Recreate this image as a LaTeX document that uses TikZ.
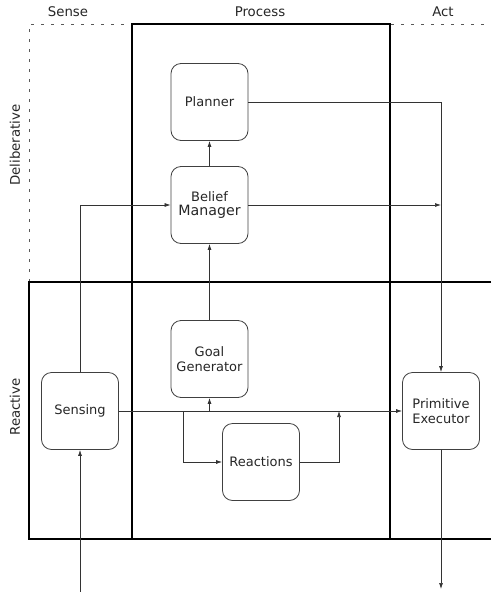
\documentclass[tikz,border=0pt]{standalone}
\usepackage{fontspec}
\setmainfont{DejaVu Sans}
\usetikzlibrary{arrows.meta}
\begin{document}
\begin{tikzpicture}[x=1pt,y=-1pt,
  box/.style={draw=black!75, line width=0.8pt, rounded corners=10pt,
    minimum width=77pt, minimum height=77pt, align=center,
    font=\fontsize{13}{15.5}\selectfont, text=black!85, inner sep=2pt},
  arr/.style={draw=black!80, line width=0.7pt, -{Latex[length=6pt,width=4pt]}},
  frame/.style={draw=black, line width=2.2pt},
  guide/.style={draw=black!65, line width=0.9pt, dash pattern=on 3pt off 7pt},
  head/.style={font=\fontsize{13.3}{15}\selectfont, text=black!85}]
\useasboundingbox (0,0) rectangle (491,592);

% column and layer headings
\node[head] (hsense) at (68,12) {Sense};
\node[head] (hproc) at (260,12) {Process};
\node[head] (hact) at (443,12) {Act};
\node[head, rotate=90] (hdel) at (15,145) {Deliberative};
\node[head, rotate=90] (hrea) at (15,407) {Reactive};

% deliberative layer outline (dotted)
\draw[guide] (29,282) -- (29,24) -- (491,24);

% reactive layer and process column
\draw[frame] (491,282) -- (29,282) -- (29,539) -- (491,539);
\draw[frame] (132,539) -- (132,24) -- (390,24) -- (390,539);

% components
\node[box] (pl) at (209.5,102) {Planner};
\node[box] (bm) at (209.5,205) {Belief\\[-1pt]{\fontsize{14.2}{16}\selectfont Manager}};
\node[box] (gg) at (209.5,359) {Goal\\Generator};
\node[box] (sen) at (80,411) {Sensing};
\node[box] (re) at (261,462) {Reactions};
\node[box] (pe) at (441,411) {Primitive\\Executor};

% helper points
\coordinate (split) at (183,411);
\coordinate (merge) at (339,411);
\coordinate (src) at (80,592);
\coordinate (sink) at (441,589);

% data flow
\draw[arr] (bm) -- (pl);
\draw[arr] (gg) -- (bm);
\draw[arr] (sen.east) -- (pe.west);
\draw[arr] (gg.south |- sen.east) -- (gg.south);
\draw[arr] (split) |- (re.west);
\draw[arr] (re.east) -| (merge);
\draw[arr] (sen.north) |- (bm.west);
\draw[arr] (bm.east) -- (bm.east -| pe.north);
\draw[arr] (pl.east) -| (pe.north);
\draw[arr] (src) -- (sen.south);
\draw[arr] (pe.south) -- (sink);
\end{tikzpicture}
\end{document}
